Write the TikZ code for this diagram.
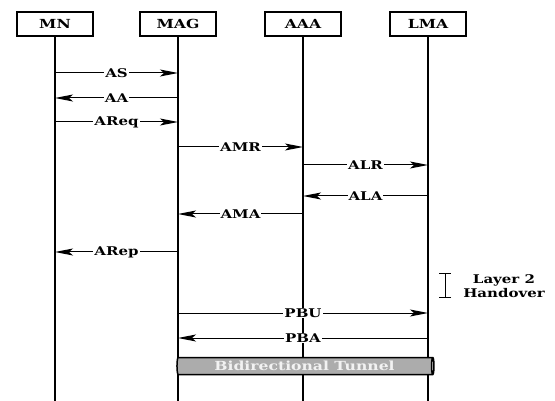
\documentclass[tikz,border=0pt]{standalone}
\usepackage{fontspec}
\setmainfont{DejaVu Serif}[FakeStretch=1.25]
\usetikzlibrary{arrows.meta}
\usetikzlibrary{shapes.geometric}

\begin{document}
\begin{tikzpicture}[
    x=1pt, y=-1pt,
    entity/.style={rectangle, draw, line width=1.6pt, minimum width=76pt, minimum height=24pt, font=\bfseries\fontsize{12.5}{14}\selectfont},
    life/.style={line width=1.5pt},
    msg/.style={-{Stealth[length=18pt,width=7pt,inset=4pt]}, line width=1pt},
    lbl/.style={fill=white, inner sep=1pt, font=\bfseries\fontsize{12}{14}\selectfont}
]
    \useasboundingbox (0,0) rectangle (555,401);

    % Entities
    \node[entity] (mn) at (55,24) {MN};
    \node[entity] (mag) at (178,24) {MAG};
    \node[entity] (aaa) at (303,24) {AAA};
    \node[entity] (lma) at (428,24) {LMA};

    % Lifelines
    \coordinate (end) at (0,401);
    \foreach \e in {mn,mag,aaa,lma}
        \draw[life] (\e.south) -- (\e |- end);

    % Message levels
    \foreach \n/\y in {as/73,aa/98,areq/122,amr/147,alr/165,ala/196,ama/214,arep/252,pbu/313,pba/338}
        \coordinate (\n) at (0,\y);

    % Attachment
    \draw[msg] (mn |- as) -- node[lbl] {AS} (mag |- as);
    \draw[msg] (mag |- aa) -- node[lbl] {AA} (mn |- aa);
    \draw[msg] (mn |- areq) -- node[lbl] {AReq} (mag |- areq);

    % Authentication
    \draw[msg] (mag |- amr) -- node[lbl] {AMR} (aaa |- amr);
    \draw[msg] (aaa |- alr) -- node[lbl] {ALR} (lma |- alr);
    \draw[msg] (lma |- ala) -- node[lbl] {ALA} (aaa |- ala);
    \draw[msg] (aaa |- ama) -- node[lbl] {AMA} (mag |- ama);
    \draw[msg] (mag |- arep) -- node[lbl] {ARep} (mn |- arep);

    % Handover
    \coordinate (l2top) at (445,273);
    \coordinate (l2bot) at (445,298);
    \draw[{Bar[width=12pt]}-{Bar[width=12pt]}, line width=0.9pt] (l2top) -- (l2bot);
    \node[lbl, align=center, fill=none, inner sep=0pt] (handover) at (504,286) {Layer 2\\Handover};

    % Binding
    \draw[msg] (mag |- pbu) -- node[lbl] {PBU} (lma |- pbu);
    \draw[msg] (lma |- pba) -- node[lbl] {PBA} (mag |- pba);

    % Tunnel
    \node[cylinder, draw, line width=1.5pt, cylinder uses custom fill, cylinder body fill=gray!65, cylinder end fill=gray!20,
        minimum height=257pt, minimum width=17pt, aspect=0.25, inner sep=0pt, text=gray!10,
        font=\bfseries\fontsize{12.5}{14}\selectfont] (tunnel) at (304.5,366) {Bidirectional Tunnel};
\end{tikzpicture}
\end{document}
